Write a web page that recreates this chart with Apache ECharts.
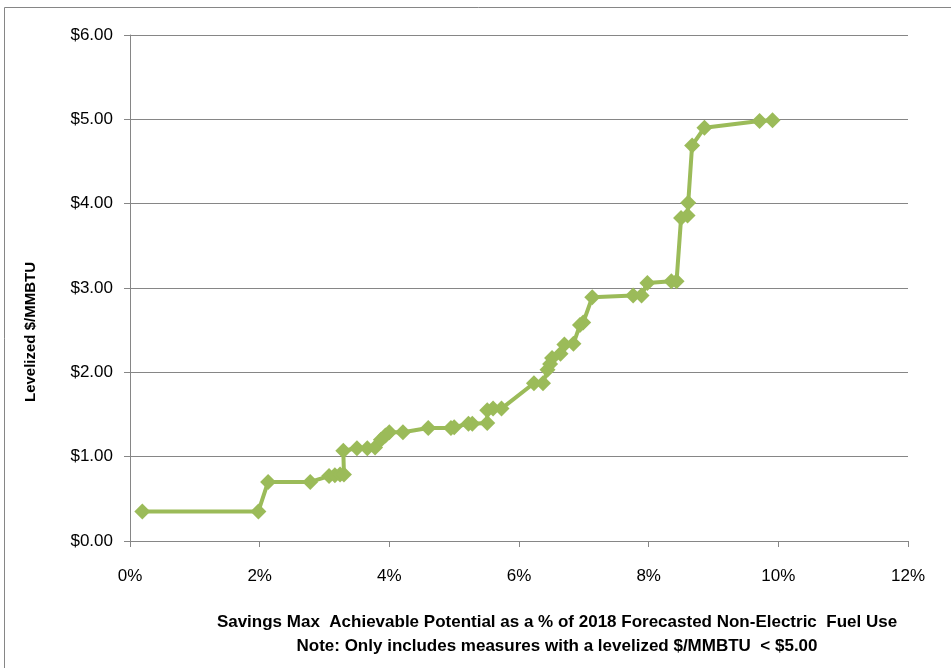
<!DOCTYPE html>
<html>
<head>
<meta charset="utf-8">
<script src="https://cdn.jsdelivr.net/npm/echarts@6/dist/echarts.min.js"></script>
<style>html,body{margin:0;padding:0;background:#fff}#c{width:951px;height:668px}</style>
</head>
<body>
<div id="c"></div>
<script>
// Savings as % of forecasted non-electric fuel use (x, in %)
const savingsPct = [0.19, 1.98, 2.13, 2.78, 3.07, 3.16, 3.24, 3.30, 3.29, 3.50, 3.66, 3.78, 3.87, 3.94, 4.00, 4.21, 4.60, 4.95, 5.00, 5.22, 5.28, 5.51, 5.51, 5.60, 5.73, 6.23, 6.37, 6.44, 6.48, 6.51, 6.64, 6.70, 6.84, 6.94, 6.99, 7.13, 7.76, 7.89, 7.98, 8.35, 8.43, 8.50, 8.60, 8.61, 8.67, 8.86, 9.71, 9.91];
// Levelized $/MMBTU (y)
const levelizedCost = [0.35, 0.35, 0.70, 0.70, 0.77, 0.78, 0.79, 0.79, 1.07, 1.10, 1.10, 1.11, 1.20, 1.25, 1.29, 1.29, 1.34, 1.34, 1.35, 1.39, 1.39, 1.40, 1.55, 1.57, 1.57, 1.87, 1.87, 2.03, 2.10, 2.17, 2.22, 2.33, 2.34, 2.56, 2.59, 2.89, 2.91, 2.91, 3.06, 3.08, 3.08, 3.83, 3.86, 4.01, 4.69, 4.90, 4.98, 4.99];
const xTitle = "Savings Max  Achievable Potential as a % of 2018 Forecasted Non-Electric  Fuel Use";
const xNote = "Note: Only includes measures with a levelized $/MMBTU  < $5.00";
const yTitle = "Levelized $/MMBTU";

const points = savingsPct.map((x, i) => [x, levelizedCost[i]]);
const chart = echarts.init(document.getElementById('c'));
const font = "'Liberation Sans', sans-serif";
chart.setOption({
  animation: false,
  backgroundColor: '#fff',
  grid: { left: 130, right: 43, top: 35, bottom: 127 },
  xAxis: {
    type: 'value', min: 0, max: 12, interval: 2,
    axisLine: { show: true, onZero: false, lineStyle: { color: '#868686', width: 1 } },
    axisTick: { show: true, length: 6, lineStyle: { color: '#868686' } },
    splitLine: { show: false },
    axisLabel: { formatter: v => v + '%', color: '#000', fontSize: 17, fontFamily: font, margin: 27 }
  },
  yAxis: {
    type: 'value', min: 0, max: 6, interval: 1,
    axisLine: { show: true, lineStyle: { color: '#868686', width: 1 } },
    axisTick: { show: true, length: 6, lineStyle: { color: '#868686' } },
    splitLine: { show: true, lineStyle: { color: '#868686', width: 1 } },
    axisLabel: { formatter: v => '$' + v.toFixed(2), color: '#000', fontSize: 17, fontFamily: font, margin: 17 }
  },
  graphic: [
    { type: 'rect', shape: { x: 4.5, y: 7.5, width: 1000, height: 1000 }, style: { fill: 'none', stroke: '#868686', lineWidth: 1 }, silent: true },
    { type: 'text', x: 31, y: 332, rotation: Math.PI / 2, style: { text: yTitle, font: "bold 15px 'Liberation Sans', sans-serif", fill: '#000', align: 'center', verticalAlign: 'middle' } },
    { type: 'text', x: 557, y: 622, style: { text: xTitle, font: "bold 17px 'Liberation Sans', sans-serif", fill: '#000', align: 'center', verticalAlign: 'middle' } },
    { type: 'text', x: 557, y: 646, style: { text: xNote, font: "bold 17px 'Liberation Sans', sans-serif", fill: '#000', align: 'center', verticalAlign: 'middle' } }
  ],
  series: [{
    type: 'line',
    data: points,
    symbol: 'diamond',
    symbolSize: 16,
    lineStyle: { color: '#9BBB59', width: 4 },
    itemStyle: { color: '#9BBB59' }
  }]
});
</script>
</body>
</html>
